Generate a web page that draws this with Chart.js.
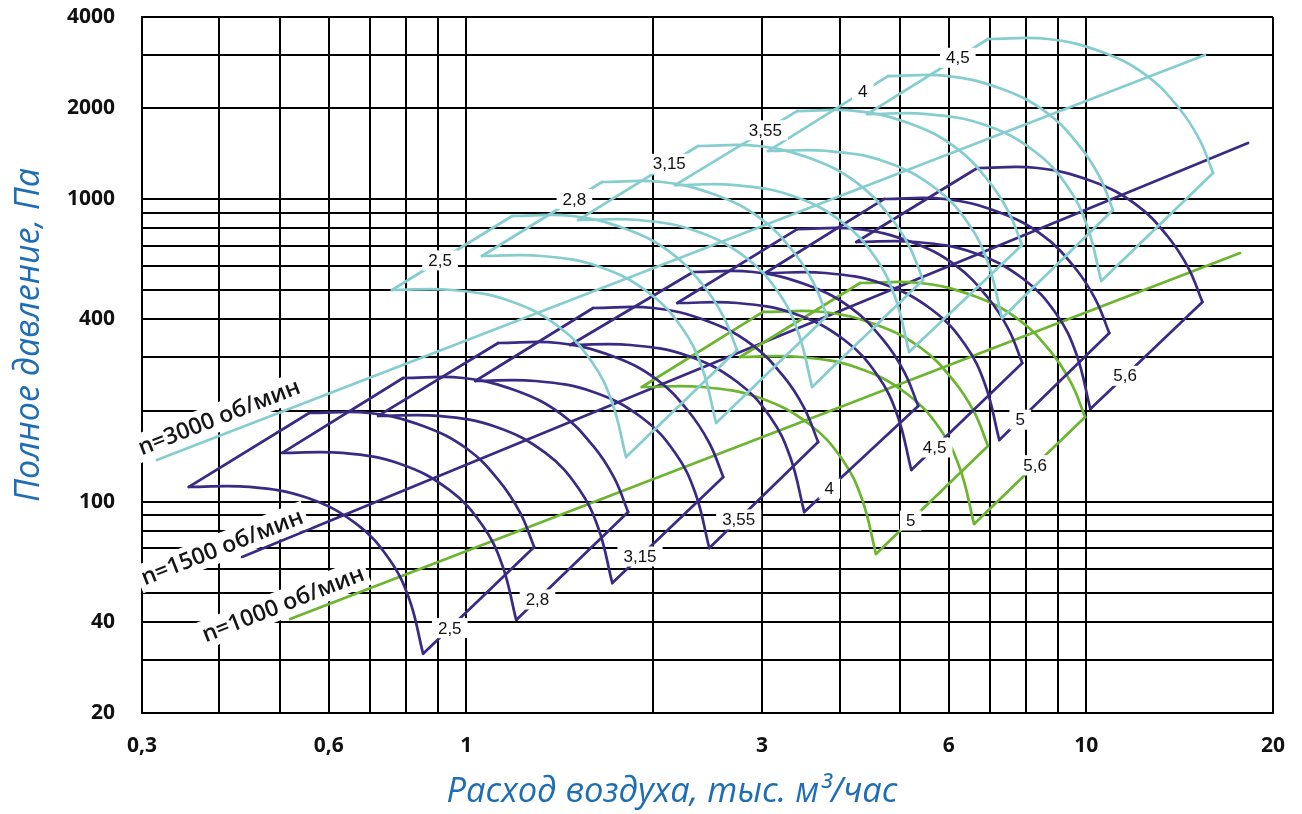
<!DOCTYPE html>
<html><head><meta charset="utf-8">
<script src="https://cdn.jsdelivr.net/npm/chart.js@4.4.1/dist/chart.umd.min.js"></script>
<style>html,body{margin:0;padding:0;background:#fff;}canvas{display:block;}</style>
</head><body>
<canvas id="c" width="1302" height="814"></canvas>
<script>
// ---- axis grid values and tick labels ----
const xGrid = [0.3,0.4,0.5,0.6,0.7,0.8,0.9,1,2,3,4,5,6,7,8,9,10,20];
const xTickLabels = {0.3:'0,3',0.6:'0,6',1:'1',3:'3',6:'6',10:'10',20:'20'};
const yGrid = [20,30,40,50,60,70,80,90,100,200,300,400,500,600,700,800,900,1000,2000,3000,4000];
const yTickLabels = {20:'20',40:'40',100:'100',400:'400',1000:'1000',2000:'2000',4000:'4000'};

// ---- n = 1500 rpm (dark violet) ----
const rpm1500Sizes = ['2,5','2,8','3,15','3,55','4','4,5','5','5,6'];
const rpm1500LowerQ = [
 [0.357,0.447,0.554,0.665,0.751,0.809,0.852],
 [0.505,0.631,0.783,0.939,1.061,1.143,1.204],
 [0.721,0.902,1.118,1.342,1.516,1.633,1.720],
 [1.034,1.293,1.603,1.923,2.173,2.341,2.466],
 [1.471,1.839,2.280,2.736,3.092,3.330,3.508],
 [2.189,2.736,3.393,4.072,4.601,4.956,5.221],
 [3.035,3.794,4.704,5.645,6.380,6.871,7.238],
 [4.256,5.320,6.597,7.916,8.946,9.636,10.15]];
const rpm1500LowerP = [
 [111.8,111.8,102.9,84.4,64.6,47.7,31.4],
 [144.8,144.8,133.2,109.3,83.7,61.7,40.6],
 [191.9,191.9,176.5,144.8,110.9,81.8,53.8],
 [250.4,250.4,230.4,188.9,144.7,106.7,70.2],
 [329.4,329.4,303.0,248.5,190.4,140.4,92.4],
 [453.4,453.4,417.1,342.1,262.1,193.3,127.2],
 [569.7,569.7,524.1,429.8,329.3,242.9,159.8],
 [721.5,721.5,663.8,544.4,417.0,307.6,202.4]];
const rpm1500UpperQ = [
 [0.558,0.698,0.852,1.004,1.130,1.222,1.287],
 [0.791,0.989,1.208,1.423,1.602,1.733,1.824],
 [1.126,1.408,1.719,2.025,2.280,2.466,2.597],
 [1.602,2.003,2.446,2.880,3.244,3.508,3.694],
 [2.323,2.904,3.547,4.177,4.704,5.087,5.357],
 [3.419,4.274,5.221,6.147,6.923,7.488,7.884],
 [4.723,5.904,7.212,8.492,9.564,10.34,10.89],
 [6.672,8.340,10.19,12.00,13.51,14.61,15.39]];
const rpm1500UpperP = [
 [196.3,196.3,177.8,149.2,117.0,91.7,70.8],
 [256.2,256.2,232.1,194.7,152.7,119.6,92.4],
 [334.4,334.4,303.0,254.1,199.3,156.2,120.6],
 [436.5,436.5,395.5,331.7,260.2,203.8,157.4],
 [574.1,574.1,520.1,436.3,342.2,268.1,207.0],
 [796.3,796.3,721.4,605.2,474.6,371.9,287.1],
 [1001,1001,906.6,760.5,596.4,467.3,360.9],
 [1267,1267,1148,962.9,755.1,591.7,456.9]];

// ---- n = 3000 rpm (light teal) ----
const rpm3000Sizes = ['2,5','2,8','3,15','3,55','4','4,5'];
const rpm3000LowerQ = [
 [0.759,0.949,1.176,1.412,1.595,1.718,1.810],
 [1.060,1.326,1.644,1.972,2.229,2.401,2.529],
 [1.515,1.893,2.347,2.817,3.184,3.429,3.612],
 [2.171,2.714,3.365,4.038,4.563,4.915,5.178],
 [3.066,3.833,4.752,5.703,6.445,6.941,7.312],
 [4.430,5.538,6.867,8.240,9.312,10.03,10.57]];
const rpm3000LowerP = [
 [500.7,500.7,460.6,377.8,289.4,213.4,140.4],
 [648.5,648.5,596.6,489.3,374.8,276.5,181.9],
 [852.8,852.8,784.6,643.4,492.9,363.5,239.2],
 [1113,1113,1024,839.8,643.3,474.5,312.2],
 [1442,1442,1327,1088,833.5,614.7,404.5],
 [1911,1911,1758,1442,1105,814.7,536.0]];
const rpm3000UpperQ = [
 [1.186,1.482,1.810,2.132,2.401,2.596,2.734],
 [1.656,2.070,2.528,2.977,3.353,3.626,3.818],
 [2.365,2.956,3.611,4.252,4.789,5.179,5.454],
 [3.416,4.270,5.216,6.142,6.917,7.481,7.877],
 [4.788,5.985,7.311,8.609,9.696,10.49,11.04],
 [6.943,8.679,10.60,12.48,14.06,15.21,16.01]];
const rpm3000UpperP = [
 [879.2,879.2,796.6,668.2,524.0,410.6,317.0],
 [1139,1139,1032,865.6,678.8,531.9,410.7],
 [1498,1498,1357,1138,892.8,699.6,540.2],
 [1955,1955,1771,1486,1165,913.0,705.0],
 [2552,2552,2312,1940,1521,1192,920.3],
 [3383,3383,3065,2571,2016,1580,1220]];

// ---- n = 1000 rpm (green) ----
const rpm1000Sizes = ['5','5,6'];
const rpm1000LowerQ = [
 [1.920,2.400,2.976,3.571,4.036,4.347,4.579],
 [2.764,3.455,4.284,5.141,5.810,6.258,6.592]];
const rpm1000LowerP = [
 [239.2,239.2,220.1,180.5,138.3,102.0,67.1],
 [300.6,300.6,276.6,226.8,173.7,128.1,84.3]];
const rpm1000UpperQ = [
 [3.010,3.763,4.596,5.412,6.095,6.592,6.941],
 [4.317,5.396,6.592,7.762,8.742,9.454,9.955]];
const rpm1000UpperP = [
 [423.5,423.5,383.7,321.9,252.4,197.8,152.7],
 [528.0,528.0,478.4,401.3,314.7,246.6,190.4]];

// ---- constant-speed lines ----
const rpmNames = ['n=3000 об/мин','n=1500 об/мин','n=1000 об/мин'];
const rpmLineQ = [[0.317,15.54],[0.435,18.23],[0.520,17.70]];
const rpmLineP = [[137.2,2995],[65.6,1533],[40.9,663]];

// ---- styles ----
const C3000 = '#86cdd0', C1500 = '#3b2a84', C1000 = '#6cb52f';
const TITLE_BLUE = '#1f6db3';

const datasets = [];
function addFamily(lq, lp, uq, up, color){
  for (let i = 0; i < lq.length; i++){
    const low = lq[i].map((q,j)=>({x:q, y:lp[i][j]}));
    const upp = uq[i].map((q,j)=>({x:q, y:up[i][j]}));
    datasets.push({data: low, borderColor: color, tension: 0.4});
    datasets.push({data: upp, borderColor: color, tension: 0.4});
    datasets.push({data: [low[0], upp[0]], borderColor: color, tension: 0});
    datasets.push({data: [upp[upp.length-1], low[low.length-1]], borderColor: color, tension: 0});
  }
}
addFamily(rpm3000LowerQ, rpm3000LowerP, rpm3000UpperQ, rpm3000UpperP, C3000);
addFamily(rpm1500LowerQ, rpm1500LowerP, rpm1500UpperQ, rpm1500UpperP, C1500);
addFamily(rpm1000LowerQ, rpm1000LowerP, rpm1000UpperQ, rpm1000UpperP, C1000);
[C3000, C1500, C1000].forEach((c, i) => {
  datasets.push({data: rpmLineQ[i].map((q,j)=>({x:q, y:rpmLineP[i][j]})), borderColor: c, tension: 0});
});

// label placement along segments (fraction)
const pos3000 = [0.40,0.77,0.76,0.74,0.79,0.75];   // on left edge, from start toward top
const pos1500 = [0.24,0.19,0.25,0.27,0.22,0.21,0.19,0.31]; // on right edge, from bottom toward top
const pos1000 = [0.31,0.55];

const overlay = {
  id: 'overlay',
  afterDatasetsDraw(chart){
    const {ctx} = chart;
    const xs = chart.scales.x, ys = chart.scales.y;
    const P = (q,p) => [xs.getPixelForValue(q), ys.getPixelForValue(p)];
    ctx.save();
    ctx.font = '17px "Liberation Sans", Arial, sans-serif';
    ctx.textAlign = 'center'; ctx.textBaseline = 'middle';
    function tag(text, a, b, t){
      const cx = a[0] + (b[0]-a[0])*t, cy = a[1] + (b[1]-a[1])*t;
      const w = ctx.measureText(text).width;
      ctx.fillStyle = '#fff'; ctx.fillRect(cx - w/2 - 6, cy - 10, w + 12, 20);
      ctx.fillStyle = '#111'; ctx.fillText(text, cx, cy + 1);
    }
    rpm3000Sizes.forEach((s,i)=>{
      tag(s, P(rpm3000LowerQ[i][0], rpm3000LowerP[i][0]), P(rpm3000UpperQ[i][0], rpm3000UpperP[i][0]), pos3000[i]);
    });
    rpm1500Sizes.forEach((s,i)=>{
      const n = rpm1500LowerQ[i].length - 1;
      tag(s, P(rpm1500LowerQ[i][n], rpm1500LowerP[i][n]), P(rpm1500UpperQ[i][n], rpm1500UpperP[i][n]), pos1500[i]);
    });
    rpm1000Sizes.forEach((s,i)=>{
      const n = rpm1000LowerQ[i].length - 1;
      tag(s, P(rpm1000LowerQ[i][n], rpm1000LowerP[i][n]), P(rpm1000UpperQ[i][n], rpm1000UpperP[i][n]), pos1000[i]);
    });
    // rotated speed labels
    const centers = [[219,417],[222,547],[283,604]];
    rpmNames.forEach((txt,i)=>{
      ctx.save();
      ctx.translate(centers[i][0], centers[i][1]);
      ctx.rotate(-21.5*Math.PI/180);
      ctx.font = '600 20px "Open Sans", sans-serif';
      const w0 = ctx.measureText(txt).width;
      const fs = 20 * 172 / w0;
      ctx.font = `600 ${fs}px "Open Sans", sans-serif`;
      const w = ctx.measureText(txt).width;
      ctx.fillStyle = '#fff';
      ctx.fillRect(-w/2 - 4, -fs*0.62, w + 8, fs*1.24);
      ctx.fillStyle = '#151515';
      ctx.textAlign = 'center'; ctx.textBaseline = 'middle';
      ctx.fillText(txt, 0, 1);
      ctx.restore();
    });
    ctx.restore();
  },
  afterDraw(chart){
    const {ctx} = chart;
    ctx.save();
    ctx.fillStyle = TITLE_BLUE;
    ctx.textAlign = 'center'; ctx.textBaseline = 'middle';
    function fitFont(txt, target){
      ctx.font = 'italic 28px "Open Sans", sans-serif';
      const w = ctx.measureText(txt).width;
      ctx.font = `italic ${28*target/w}px "Open Sans", sans-serif`;
    }
    const xt = 'Расход воздуха, тыс. м³/час';
    fitFont(xt, 451);
    ctx.fillText(xt, 672, 792);
    const yt = 'Полное давление, Па';
    ctx.translate(29, 335);
    ctx.rotate(-Math.PI/2);
    fitFont(yt, 334);
    ctx.fillText(yt, 0, 0);
    ctx.restore();
  }
};

const tickFont = {family: '"Open Sans", sans-serif', size: 21, weight: 'bold'};
new Chart(document.getElementById('c'), {
  type: 'line',
  data: {datasets},
  options: {
    responsive: false,
    animation: false,
    devicePixelRatio: 1,
    layout: {padding: {left: 0, top: 17, right: 29, bottom: 0}},
    plugins: {legend: {display: false}, tooltip: {enabled: false}},
    elements: {line: {borderWidth: 2.7, fill: false, borderCapStyle: 'round', borderJoinStyle: 'miter'}, point: {radius: 0}},
    scales: {
      x: {
        type: 'logarithmic', min: 0.3, max: 20, position: 'bottom',
        afterBuildTicks: s => { s.ticks = xGrid.map(v => ({value: v})); },
        afterFit: s => { s.height = 101; s.paddingLeft = 0; s.paddingRight = 0; },
        grid: {color: '#000', lineWidth: 2, drawTicks: false},
        border: {display: true, color: '#000', width: 2},
        ticks: {autoSkip: false, maxRotation: 0, minRotation: 0, padding: 20, color: '#111', font: tickFont,
          callback: v => xTickLabels[v] ?? ''}
      },
      y: {
        type: 'logarithmic', min: 20, max: 4000, position: 'left',
        afterBuildTicks: s => { s.ticks = yGrid.map(v => ({value: v})); },
        afterFit: s => { s.width = 142; s.paddingTop = 0; s.paddingBottom = 0; },
        grid: {color: '#000', lineWidth: 2, drawTicks: false},
        border: {display: true, color: '#000', width: 2},
        ticks: {autoSkip: false, padding: 27, color: '#111', font: tickFont,
          callback: v => yTickLabels[v] ?? ''}
      }
    }
  },
  plugins: [overlay]
});
</script>
</body></html>
